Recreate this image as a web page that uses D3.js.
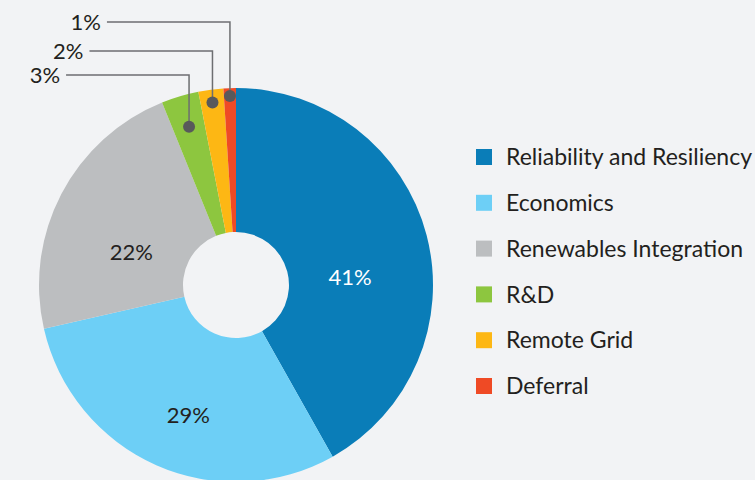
<!DOCTYPE html>
<html>
<head>
<meta charset="utf-8">
<script src="https://cdn.jsdelivr.net/npm/d3@7"></script>
<style>
  html, body { margin: 0; padding: 0; background: #f2f3f5; }
  svg { display: block; }
  text { font-family: Lato, "Open Sans", sans-serif; }
</style>
</head>
<body>
<svg id="chart" width="755" height="480"></svg>
<script>
// Share of projects by primary use case
const categories = ["Reliability and Resiliency", "Economics", "Renewables Integration", "R&D", "Remote Grid", "Deferral"];
const values = [41, 29, 22, 3, 2, 1];
const colors = ["#0a7db8", "#6dcff6", "#bcbec0", "#8dc63f", "#fdb714", "#ef4a25"];
// slices labelled inside the ring vs. with callout leaders
const insideLabels = [true, true, true, false, false, false];
const calloutY = [null, null, null, 75, 51, 22];

const svg = d3.select("#chart");
const width = 755, height = 480;
const cx = 236, cy = 285;
const outerR = 197, innerR = 53;

svg.append("rect").attr("width", width).attr("height", height).attr("fill", "#f2f3f5");

const data = categories.map((c, i) => ({ name: c, value: values[i], color: colors[i], inside: insideLabels[i], cy: calloutY[i] }));

const pie = d3.pie().value(d => d.value).sort(null);
const arcs = pie(data);
const arc = d3.arc().innerRadius(innerR).outerRadius(outerR);
const labelArc = d3.arc().innerRadius(118).outerRadius(118);
const labelDrop = 22; // nudge in-ring values a little below the centroid

const g = svg.append("g").attr("transform", `translate(${cx},${cy})`);

g.selectAll("path.slice")
  .data(arcs)
  .join("path")
  .attr("class", "slice")
  .attr("d", arc)
  .attr("fill", d => d.data.color);

// values inside the big slices
g.selectAll("text.inner")
  .data(arcs.filter(d => d.data.inside))
  .join("text")
  .attr("class", "inner")
  .attr("transform", d => {
    const [x, y] = labelArc.centroid(d);
    return `translate(${x},${y + labelDrop})`;
  })
  .attr("text-anchor", "middle")
  .attr("dy", "0.35em")
  .attr("font-size", 22)
  .attr("fill", d => d.index === 0 ? "#ffffff" : "#231f20")
  .text(d => d.value + "%");

// callouts for the thin slices: dot in the slice, leader up then left to the value
const small = arcs.filter(d => !d.data.inside);
const dotR = [0, 0, 0, 165, 184, 189];
small.forEach(d => {
  const a = (d.startAngle + d.endAngle) / 2;
  const r = dotR[d.index];
  const x = r * Math.sin(a), y = -r * Math.cos(a);
  const ly = d.data.cy - cy;
  const lx = x - 123;
  g.append("path")
    .attr("d", `M${x},${y}V${ly}H${lx}`)
    .attr("fill", "none")
    .attr("stroke", "#6d6e71")
    .attr("stroke-width", 1.5);
  g.append("circle")
    .attr("cx", x).attr("cy", y).attr("r", 6)
    .attr("fill", "#58595b");
  g.append("text")
    .attr("x", lx - 6).attr("y", ly)
    .attr("dy", "0.35em")
    .attr("text-anchor", "end")
    .attr("font-size", 22)
    .attr("fill", "#231f20")
    .text(d.value + "%");
});

// legend
const legend = svg.append("g").attr("transform", "translate(476,149)");
const rows = legend.selectAll("g")
  .data(data)
  .join("g")
  .attr("transform", (d, i) => `translate(0,${i * 45.8})`);
rows.append("rect").attr("width", 16).attr("height", 16).attr("fill", d => d.color);
rows.append("text")
  .attr("x", 30).attr("y", 8).attr("dy", "0.36em")
  .attr("font-size", 23)
  .attr("fill", "#231f20")
  .text(d => d.name);
</script>
</body>
</html>
